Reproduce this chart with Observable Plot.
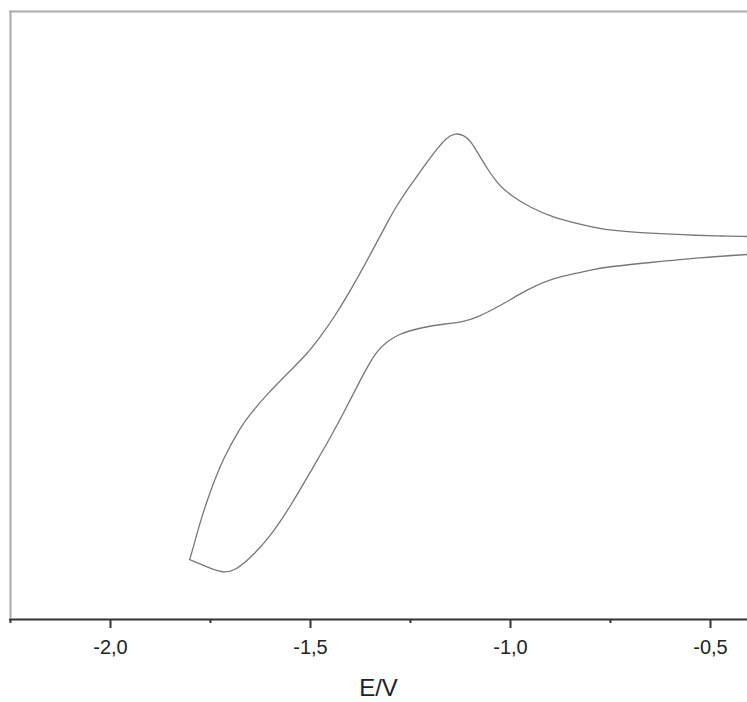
<!DOCTYPE html>
<html>
<head>
<meta charset="utf-8">
<script src="https://cdn.jsdelivr.net/npm/d3@7"></script>
<script src="https://cdn.jsdelivr.net/npm/@observablehq/plot@0.6"></script>
<style>
  html, body { margin: 0; padding: 0; background: #fff; }
  svg { display: block; }
</style>
</head>
<body>
<div id="chart"></div>
<script>
// Potential E/V (x) and current (arbitrary units, y)
const upperE = [-0.4075, -0.475, -0.525, -0.65, -0.775, -0.825, -0.90, -0.95, -1.00, -1.0325, -1.055, -1.075, -1.10, -1.1175, -1.1375, -1.1625, -1.1825, -1.2075, -1.2325, -1.2575, -1.2825, -1.30, -1.345, -1.3925, -1.4425, -1.475, -1.5075, -1.55, -1.6075, -1.6575, -1.675, -1.7175, -1.75, -1.775, -1.80, -1.8025];
const upperI = [62.93, 63.01, 63.10, 63.43, 64.09, 64.91, 66.23, 67.71, 69.69, 71.66, 73.81, 75.95, 78.75, 79.65, 80.0, 79.1, 77.43, 75.29, 72.98, 70.68, 68.20, 66.23, 60.63, 54.86, 49.42, 46.46, 43.66, 40.86, 37.07, 33.11, 31.47, 26.52, 21.09, 16.14, 10.05, 9.72];
const lowerE = [-1.8025, -1.7625, -1.7175, -1.6875, -1.6575, -1.6075, -1.55, -1.4925, -1.45, -1.4075, -1.375, -1.35, -1.3325, -1.3075, -1.2825, -1.225, -1.1575, -1.125, -1.0825, -1.025, -0.975, -0.9075, -0.825, -0.775, -0.65, -0.525, -0.4075];
const lowerI = [9.72, 8.6, 7.4, 8.0, 9.56, 12.85, 18.45, 25.04, 29.82, 35.09, 39.37, 42.34, 44.15, 45.63, 46.79, 47.94, 48.60, 48.76, 49.59, 51.57, 53.54, 55.85, 57.0, 57.83, 58.65, 59.47, 59.97];
const majorTicks = [-2.0, -1.5, -1.0, -0.5];
const minorTicks = [-2.25, -1.75, -1.25, -0.75];
const xLabel = "E/V";

const data = [
  ...upperE.map((e, i) => ({E: e, I: upperI[i], branch: "upper"})),
  ...lowerE.map((e, i) => ({E: e, I: lowerI[i], branch: "lower"}))
];

const fmt = d => d.toFixed(1).replace(".", ",");

const chart = Plot.plot({
  width: 747,
  height: 702,
  marginLeft: 9,
  marginRight: 0,
  marginTop: 11,
  marginBottom: 84,
  style: {fontFamily: "'Liberation Sans', Arial, sans-serif", background: "#fff"},
  x: {domain: [-2.2525, -0.4075]},
  y: {domain: [0, 100], axis: null},
  marks: [
    Plot.ruleY([100], {stroke: "#aaa", strokeWidth: 2}),
    Plot.ruleX([-2.2525], {stroke: "#aaa", strokeWidth: 2, dx: 1}),
    Plot.ruleY([0], {stroke: "#333", strokeWidth: 2, dy: 1}),
    Plot.axisX(majorTicks, {tickSize: 9, tickFormat: () => "", stroke: "#333", strokeWidth: 2, dy: 1, label: null}),
    Plot.axisX(minorTicks, {tickSize: 4, tickFormat: () => "", stroke: "#333", strokeWidth: 2, dy: 1, label: null}),
    Plot.text(majorTicks, {x: d => d, text: fmt, frameAnchor: "bottom", dy: 29, fontSize: 20, fill: "#222", lineAnchor: "middle"}),
    Plot.line(data, {x: "E", y: "I", z: "branch", stroke: "#777", strokeWidth: 1.3, curve: "basis"}),
    Plot.text([xLabel], {x: () => -1.33, text: d => d, frameAnchor: "bottom", dy: 70, fontSize: 24, fill: "#222", lineAnchor: "middle"})
  ]
});
document.getElementById("chart").appendChild(chart);
</script>
</body>
</html>
